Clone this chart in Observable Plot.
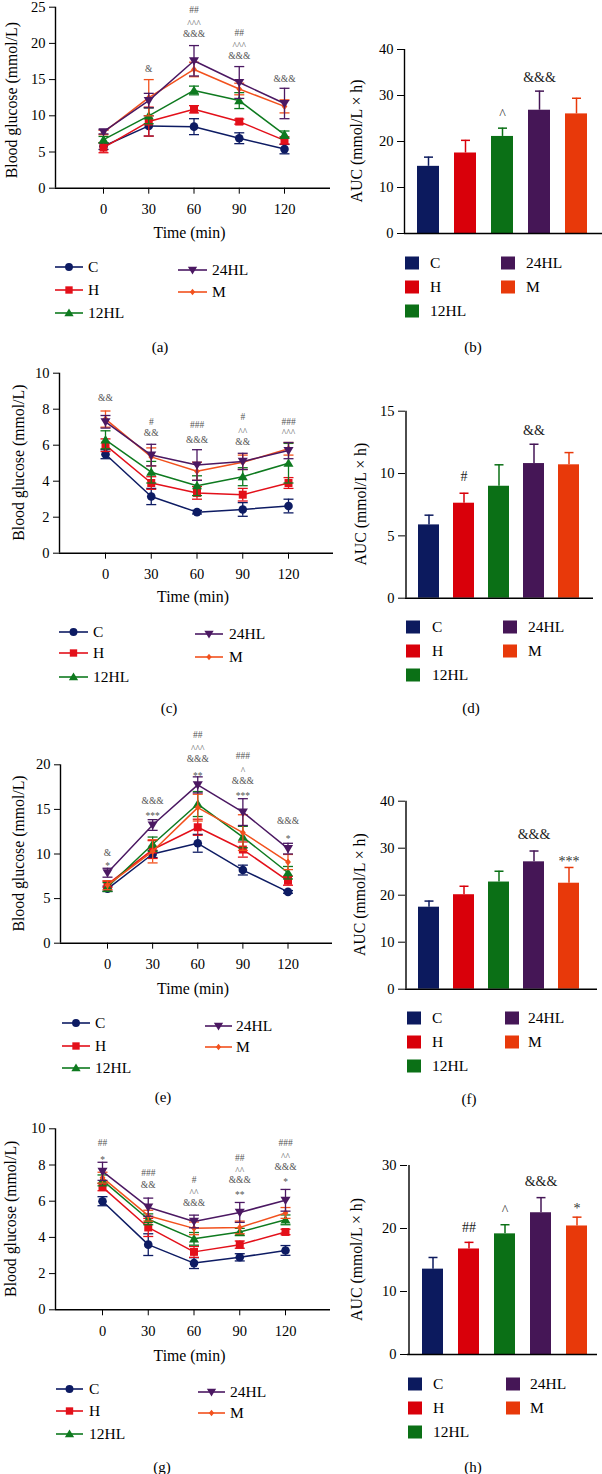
<!DOCTYPE html>
<html><head><meta charset="utf-8">
<script src="https://cdn.jsdelivr.net/npm/d3@7"></script>
<script src="https://cdn.jsdelivr.net/npm/@observablehq/plot@0.6"></script>
<style>
body{margin:0;background:#fff;}
#fig{position:relative;width:602px;height:1474px;background:#fff;overflow:hidden;font-family:"Liberation Serif",serif;}
#fig svg{position:absolute;background:transparent !important;overflow:visible !important;max-width:none !important;}
#fig svg text{font-family:"Liberation Serif",serif;}
</style></head><body><div id="fig"></div>
<script>
const groups = ["C", "H", "12HL", "24HL", "M"];
const times = [0, 30, 60, 90, 120];
const lineColors = ["#0d1b63", "#e3101a", "#0e7a1f", "#4b1862", "#f2511d"];
const barColors = ["#0c1a5e", "#d9000a", "#0b7016", "#451656", "#e8390a"];

// (a) OGTT blood glucose, rows: C, H, 12HL, 24HL, M
const aMean = [
  [5.8, 8.6, 8.5, 6.9, 5.4],
  [5.6, 9.2, 10.9, 9.2, 6.6],
  [6.7, 10.0, 13.5, 12.1, 7.4],
  [7.8, 12.1, 17.6, 14.6, 11.7],
  [7.7, 12.5, 16.4, 13.7, 11.3]
];
const aErr = [
  [0.45, 1.4, 1.1, 0.75, 0.65],
  [0.7, 2.0, 0.5, 0.35, 0.5],
  [0.45, 1.1, 0.6, 1.1, 0.5],
  [0.3, 1.0, 2.1, 2.2, 2.1],
  [0.3, 2.5, 1.0, 0.8, 0.9]
];
const aNotes = [[30, 16.5, "&"], [60, 21.3, "&&&"], [60, 23.0, "^^^"], [60, 24.6, "##"],
  [90, 18.3, "&&&"], [90, 20.0, "^^^"], [90, 21.5, "##"], [120, 15.1, "&&&"]];

// (b) AUC
const bAUC = [14.6, 17.5, 21.1, 26.8, 26.0];
const bErr = [2.0, 2.75, 1.8, 4.15, 3.4];
const bNotes = [["12HL", 26.5, "^"], ["24HL", 34, "&&&"]];

// (c) ITT blood glucose
const cMean = [
  [5.5, 3.15, 2.28, 2.43, 2.62],
  [6.0, 3.9, 3.35, 3.25, 3.9],
  [6.3, 4.5, 3.75, 4.25, 5.0],
  [7.3, 5.45, 4.9, 5.1, 5.7],
  [7.45, 5.35, 4.55, 5.05, 5.8]
];
const cErr = [
  [0.25, 0.45, 0.1, 0.38, 0.38],
  [0.35, 0.35, 0.35, 0.35, 0.3],
  [0.5, 0.6, 0.55, 0.5, 1.1],
  [0.35, 0.6, 0.85, 0.45, 0.45],
  [0.45, 0.5, 0.5, 0.4, 0.35]
];
const cNotes = [[0, 8.6, "&&"], [30, 7.3, "#"], [30, 6.7, "&&"], [60, 7.1, "###"], [60, 6.3, "&&&"],
  [90, 7.55, "#"], [90, 6.9, "^^"], [90, 6.2, "&&"], [120, 7.3, "###"], [120, 6.8, "^^^"]];

// (d) AUC
const dAUC = [5.88, 7.62, 8.98, 10.8, 10.7];
const dErr = [0.78, 0.8, 1.72, 1.55, 0.98];
const dNotes = [["H", 9.75, "#"], ["24HL", 13.45, "&&"]];

// (e) OGTT blood glucose
const eMean = [
  [6.1, 10.0, 11.2, 8.2, 5.75],
  [6.6, 10.5, 13.0, 10.5, 7.0],
  [6.3, 11.1, 15.6, 11.9, 7.9],
  [7.9, 13.25, 17.75, 14.7, 10.6],
  [6.5, 10.3, 15.2, 12.4, 9.1]
];
const eErr = [
  [0.3, 0.4, 1.0, 0.55, 0.15],
  [0.35, 1.0, 0.9, 0.85, 0.5],
  [0.5, 0.8, 1.4, 1.2, 0.7],
  [0.5, 0.6, 0.9, 1.5, 0.6],
  [0.5, 1.3, 1.5, 2.0, 0.85]
];
const eNotes = [[0, 10.1, "&"], [0, 8.9, "*"], [30, 16.0, "&&&"], [30, 14.6, "***"],
  [60, 19.0, "**"], [60, 20.7, "&&&"], [60, 22.1, "^^^"], [60, 23.3, "##"],
  [90, 16.8, "***"], [90, 18.2, "&&&"], [90, 19.6, "^"], [90, 21.0, "###"],
  [120, 12.0, "*"], [120, 13.7, "&&&"]];

// (f) AUC
const fAUC = [17.45, 20.1, 22.8, 27.1, 22.55];
const fErr = [1.3, 1.8, 2.3, 2.3, 3.35];
const fNotes = [["24HL", 33, "&&&"], ["M", 27.9, "***"]];

// (g) ITT blood glucose
const gMean = [
  [6.0, 3.6, 2.58, 2.9, 3.28],
  [6.78, 4.55, 3.2, 3.6, 4.3],
  [7.15, 5.0, 3.92, 4.3, 4.97],
  [7.65, 5.67, 4.88, 5.38, 6.05],
  [7.3, 5.2, 4.5, 4.55, 5.35]
];
const gErr = [
  [0.25, 0.6, 0.3, 0.2, 0.27],
  [0.2, 0.5, 0.3, 0.2, 0.15],
  [0.3, 0.3, 0.35, 0.2, 0.27],
  [0.5, 0.5, 0.35, 0.55, 0.6],
  [0.3, 0.3, 0.35, 0.35, 0.3]
];
const gNotes = [[0, 9.2, "##"], [0, 8.4, "*"], [30, 7.55, "###"], [30, 6.9, "&&"],
  [60, 7.15, "#"], [60, 6.6, "^^"], [60, 5.9, "&&&"],
  [90, 8.4, "##"], [90, 7.8, "^^"], [90, 7.15, "&&&"], [90, 6.5, "**"],
  [120, 9.2, "###"], [120, 8.6, "^^"], [120, 7.9, "&&&"], [120, 7.2, "*"]];

// (h) AUC
const hAUC = [13.55, 16.75, 19.15, 22.5, 20.4];
const hErr = [1.85, 1.05, 1.45, 2.4, 1.4];
const hNotes = [["H", 20.2, "##"], ["12HL", 23.3, "^"], ["24HL", 27.4, "&&&"], ["M", 23.7, "*"]];

const lineTitle = "Time (min)";
const yLineTitle = "Blood glucose (mmol/L)";
const yBarTitle = "AUC (mmol/L × h)";
const captionLabels = ["(a)", "(b)", "(c)", "(d)", "(e)", "(f)", "(g)", "(h)"];

// ---------------- drawing ----------------
const fig = document.getElementById("fig");
const FONT = '"Liberation Serif", serif';

const rad = size => Math.sqrt(size / Math.PI);
const triUp = {draw(c, s) { const r = rad(s); c.moveTo(0, -r); c.lineTo(r * 1.05, r * 0.75); c.lineTo(-r * 1.05, r * 0.75); c.closePath(); }};
const triDown = {draw(c, s) { const r = rad(s); c.moveTo(0, r); c.lineTo(r * 1.05, -r * 0.75); c.lineTo(-r * 1.05, -r * 0.75); c.closePath(); }};
const diamond = {draw(c, s) { const r = rad(s); c.moveTo(0, -r); c.lineTo(r * 0.8, 0); c.lineTo(0, r); c.lineTo(-r * 0.8, 0); c.closePath(); }};
const cap = {draw(c, s) { const r = rad(s); c.moveTo(-r, 0); c.lineTo(r, 0); }};
const symbols = ["circle", "square", triUp, triDown, diamond];
const d3symbols = [d3.symbolCircle, d3.symbolSquare, triUp, triDown, diamond];
const radii = [4.3, 4.5, 4.8, 4.8, 3.6];
const drawOrder = [0, 1, 2, 4, 3];

function place(svg, left, top) {
  svg.setAttribute("font-family", FONT);
  svg.style.fontFamily = FONT;
  svg.style.background = "transparent";
  svg.style.overflow = "visible";
  svg.style.maxWidth = "none";
  svg.style.left = left + "px";
  svg.style.top = top + "px";
  fig.appendChild(svg);
}
const baseStyle = {fontFamily: FONT, fontSize: "14.5px", background: "transparent", overflow: "visible", maxWidth: "none", color: "#000"};
const isHigh = s => s[0] === "^" || s[0] === "*";
const titles = [];

function linePanel(p) {
  const k = (p.x120 - p.x0) / 120;
  const xDomain = [(p.yAxisX - p.x0) / k, (p.axisEnd - p.x0) / k];
  const rows = [];
  p.mean.forEach((arr, gi) => arr.forEach((v, ti) => rows.push({g: groups[gi], gi, t: times[ti], mean: v, err: p.err[gi][ti]})));
  const marks = [
    Plot.ruleY([0], {strokeWidth: 1.4}),
    Plot.ruleX([xDomain[0]], {strokeWidth: 1.4})
  ];
  for (const gi of drawOrder) {
    const r = rows.filter(d => d.gi === gi);
    marks.push(Plot.ruleX(r, {x: "t", y1: d => d.mean - d.err, y2: d => d.mean + d.err, stroke: "g", strokeWidth: 1.3}));
    marks.push(Plot.dot(r, {x: "t", y: d => d.mean + d.err, symbol: cap, r: 5, stroke: "g", fill: "none", strokeWidth: 1.3}));
    marks.push(Plot.dot(r, {x: "t", y: d => d.mean - d.err, symbol: cap, r: 5, stroke: "g", fill: "none", strokeWidth: 1.3}));
    marks.push(Plot.line(r, {x: "t", y: "mean", stroke: "g", strokeWidth: 1.5}));
    marks.push(Plot.dot(r, {x: "t", y: "mean", symbol: symbols[gi], r: radii[gi], fill: "g", stroke: "none"}));
  }
  marks.push(Plot.text(p.notes.filter(d => !isHigh(d[2])), {x: d => d[0], y: d => d[1], text: d => d[2], fontSize: 9.5, fill: "#555"}));
  marks.push(Plot.text(p.notes.filter(d => isHigh(d[2])), {x: d => d[0], y: d => d[1], text: d => d[2], fontSize: 9.5, fill: "#555", dy: 2.5}));
  const svg = Plot.plot({
    width: p.width, height: p.height,
    marginLeft: p.yAxisX, marginRight: p.width - p.axisEnd,
    marginTop: p.yTopPx - p.top, marginBottom: p.top + p.height - p.y0px,
    x: {domain: xDomain, ticks: times, tickSize: 6, tickPadding: 10, label: null},
    y: {domain: [0, p.yMax], ticks: p.yTicks, tickSize: 6, tickPadding: 4, label: null},
    color: {domain: groups, range: lineColors},
    style: baseStyle,
    marks
  });
  place(svg, 0, p.top);
  titles.push({text: lineTitle, x: (p.yAxisX + p.axisEnd) / 2 - 3, y: p.y0px + p.titleDy, rotate: 0});
  titles.push({text: yLineTitle, x: p.ytitleX, y: (p.y0px + p.yTopPx) / 2 + p.ytitleShift, rotate: -90});
}

function barPanel(p) {
  const n = groups.length;
  const L = p.axisEnd - p.yAxisX;
  const pi = 1 - p.bw / p.step;
  const slack = L - p.step * (n - pi);
  const po = slack / (2 * p.step);
  const align = (p.c1 - p.bw / 2 - p.yAxisX) / slack;
  const rows = groups.map((g, i) => ({g, v: p.vals[i], e: p.errs[i]}));
  const marks = [
    Plot.ruleX(rows, {x: "g", y1: "v", y2: d => d.v + d.e, stroke: "g", strokeWidth: 1.5}),
    Plot.dot(rows, {x: "g", y: d => d.v + d.e, symbol: cap, r: 4.5, stroke: "g", fill: "none", strokeWidth: 1.5}),
    Plot.barY(rows, {x: "g", y: "v", fill: "g"}),
    Plot.ruleY([0], {strokeWidth: 1.4}),
    Plot.ruleX([groups[0]], {dx: -(p.c1 - p.yAxisX), strokeWidth: 1.4}),
    Plot.text(p.notes.filter(d => !isHigh(d[2])), {x: d => d[0], y: d => d[1], text: d => d[2], fontSize: 14, fill: "#222"}),
    Plot.text(p.notes.filter(d => isHigh(d[2])), {x: d => d[0], y: d => d[1], text: d => d[2], fontSize: 14, fill: "#333", dy: 3})
  ];
  const left = 310, width = 292;
  const svg = Plot.plot({
    width, height: p.height,
    marginLeft: p.yAxisX - left, marginRight: left + width - p.axisEnd,
    marginTop: p.yTopPx - p.top, marginBottom: p.top + p.height - p.y0px,
    x: {domain: groups, paddingInner: pi, paddingOuter: po, align, axis: null},
    y: {domain: [0, p.yMax], ticks: p.yTicks, tickSize: 7, tickPadding: 4, label: null},
    color: {domain: groups, range: barColors},
    style: baseStyle,
    marks
  });
  place(svg, left, p.top);
  titles.push({text: yBarTitle, x: p.ytitleX, y: (p.y0px + p.yTopPx) / 2, rotate: -90});
}

barPanel({top: 0, height: 250, yAxisX: 404, axisEnd: 602, y0px: 233, yTopPx: 49, yMax: 40, yTicks: [0, 10, 20, 30, 40],
  c1: 428, step: 37, bw: 22, ytitleX: 357, vals: bAUC, errs: bErr, notes: bNotes});
barPanel({top: 360, height: 260, yAxisX: 405, axisEnd: 593, y0px: 597.7, yTopPx: 410.7, yMax: 15, yTicks: [0, 5, 10, 15],
  c1: 428, step: 35, bw: 21, ytitleX: 361, vals: dAUC, errs: dErr, notes: dNotes});
barPanel({top: 720, height: 280, yAxisX: 405, axisEnd: 597, y0px: 988.7, yTopPx: 800.7, yMax: 40, yTicks: [0, 10, 20, 30, 40],
  c1: 428, step: 35.5, bw: 21, ytitleX: 360, vals: fAUC, errs: fErr, notes: fNotes});
barPanel({top: 1100, height: 270, yAxisX: 407, axisEnd: 597, y0px: 1354, yTopPx: 1165, yMax: 30, yTicks: [0, 10, 20, 30],
  c1: 431, step: 36.5, bw: 21, ytitleX: 357, vals: hAUC, errs: hErr, notes: hNotes});

linePanel({top: 0, width: 340, height: 250, yAxisX: 55, axisEnd: 330, x0: 103, x120: 284, y0px: 187.7, yTopPx: 6.7,
  yMax: 25, yTicks: [0, 5, 10, 15, 20, 25], titleDy: 45, ytitleX: 12, ytitleShift: 3, mean: aMean, err: aErr, notes: aNotes});
linePanel({top: 360, width: 340, height: 260, yAxisX: 59, axisEnd: 333, x0: 105, x120: 288, y0px: 552.7, yTopPx: 372.7,
  yMax: 10, yTicks: [0, 2, 4, 6, 8, 10], titleDy: 44, ytitleX: 19, ytitleShift: 0, mean: cMean, err: cErr, notes: cNotes});
linePanel({top: 720, width: 340, height: 280, yAxisX: 60, axisEnd: 332, x0: 107, x120: 287.5, y0px: 942.7, yTopPx: 764.3,
  yMax: 20, yTicks: [0, 5, 10, 15, 20], titleDy: 46, ytitleX: 19, ytitleShift: 0, mean: eMean, err: eErr, notes: eNotes});
linePanel({top: 1100, width: 340, height: 270, yAxisX: 55, axisEnd: 330, x0: 102, x120: 285, y0px: 1309.3, yTopPx: 1128.3,
  yMax: 10, yTicks: [0, 2, 4, 6, 8, 10], titleDy: 46, ytitleX: 11, ytitleShift: 0, mean: gMean, err: gErr, notes: gNotes});

// ---------------- legends, titles and captions ----------------
const lineLegends = [
  {left: [55, 83, 88], right: [178, 207, 212], ys: [267, 290, 313], ysR: [270, 292]},
  {left: [59, 88, 93], right: [195, 223, 229], ys: [632, 653, 677], ysR: [634, 657]},
  {left: [62, 90, 95], right: [205, 232, 236], ys: [1023, 1046, 1068], ysR: [1026, 1047]},
  {left: [56, 83, 89], right: [198, 225, 230], ys: [1389, 1411, 1434], ysR: [1392, 1413]}
];
const barLegends = [
  {left: [405, 430], right: [501, 526], ys: [263, 287, 311]},
  {left: [406, 432], right: [503, 528], ys: [627, 651, 675]},
  {left: [407, 432], right: [505, 528], ys: [1018, 1042, 1066]},
  {left: [408, 433], right: [506, 530], ys: [1384, 1408, 1432]}
];
const captionPos = [[160, 347], [473, 347], [169, 708], [471, 708], [163, 1097], [469, 1099], [162, 1467], [473, 1467]];

const ov = d3.create("svg").attr("width", 602).attr("height", 1474)
  .style("left", "0px").style("top", "0px").attr("font-family", FONT);
const leftCol = [0, 1, 2], rightCol = [3, 4];
for (const lg of lineLegends) {
  const items = [];
  leftCol.forEach((gi, j) => items.push([gi, lg.left, lg.ys[j]]));
  rightCol.forEach((gi, j) => items.push([gi, lg.right, lg.ysR[j]]));
  for (const [gi, xs, y] of items) {
    ov.append("line").attr("x1", xs[0]).attr("x2", xs[1]).attr("y1", y).attr("y2", y)
      .attr("stroke", lineColors[gi]).attr("stroke-width", 1.6);
    ov.append("path").attr("transform", `translate(${(xs[0] + xs[1]) / 2},${y})`)
      .attr("d", d3.symbol(d3symbols[gi], Math.PI * radii[gi] * radii[gi] * 0.85)())
      .attr("fill", lineColors[gi]);
    ov.append("text").attr("x", xs[2]).attr("y", y).attr("dy", "0.34em")
      .attr("font-size", 15.5).text(groups[gi]);
  }
}
for (const lg of barLegends) {
  const items = [];
  leftCol.forEach((gi, j) => items.push([gi, lg.left, lg.ys[j]]));
  rightCol.forEach((gi, j) => items.push([gi, lg.right, lg.ys[j]]));
  for (const [gi, xs, y] of items) {
    ov.append("rect").attr("x", xs[0]).attr("y", y - 6.5).attr("width", 14).attr("height", 13)
      .attr("fill", barColors[gi]);
    ov.append("text").attr("x", xs[1]).attr("y", y).attr("dy", "0.34em")
      .attr("font-size", 15.5).text(groups[gi]);
  }
}
for (const t of titles) {
  ov.append("text").attr("transform", `translate(${t.x},${t.y}) rotate(${t.rotate})`)
    .attr("dy", "0.34em").attr("text-anchor", "middle").attr("font-size", 15.8).text(t.text);
}
captionLabels.forEach((t, i) => {
  ov.append("text").attr("x", captionPos[i][0]).attr("y", captionPos[i][1]).attr("dy", "0.34em")
    .attr("text-anchor", "middle").attr("font-size", 15).text(t);
});
place(ov.node(), 0, 0);
</script></body></html>
